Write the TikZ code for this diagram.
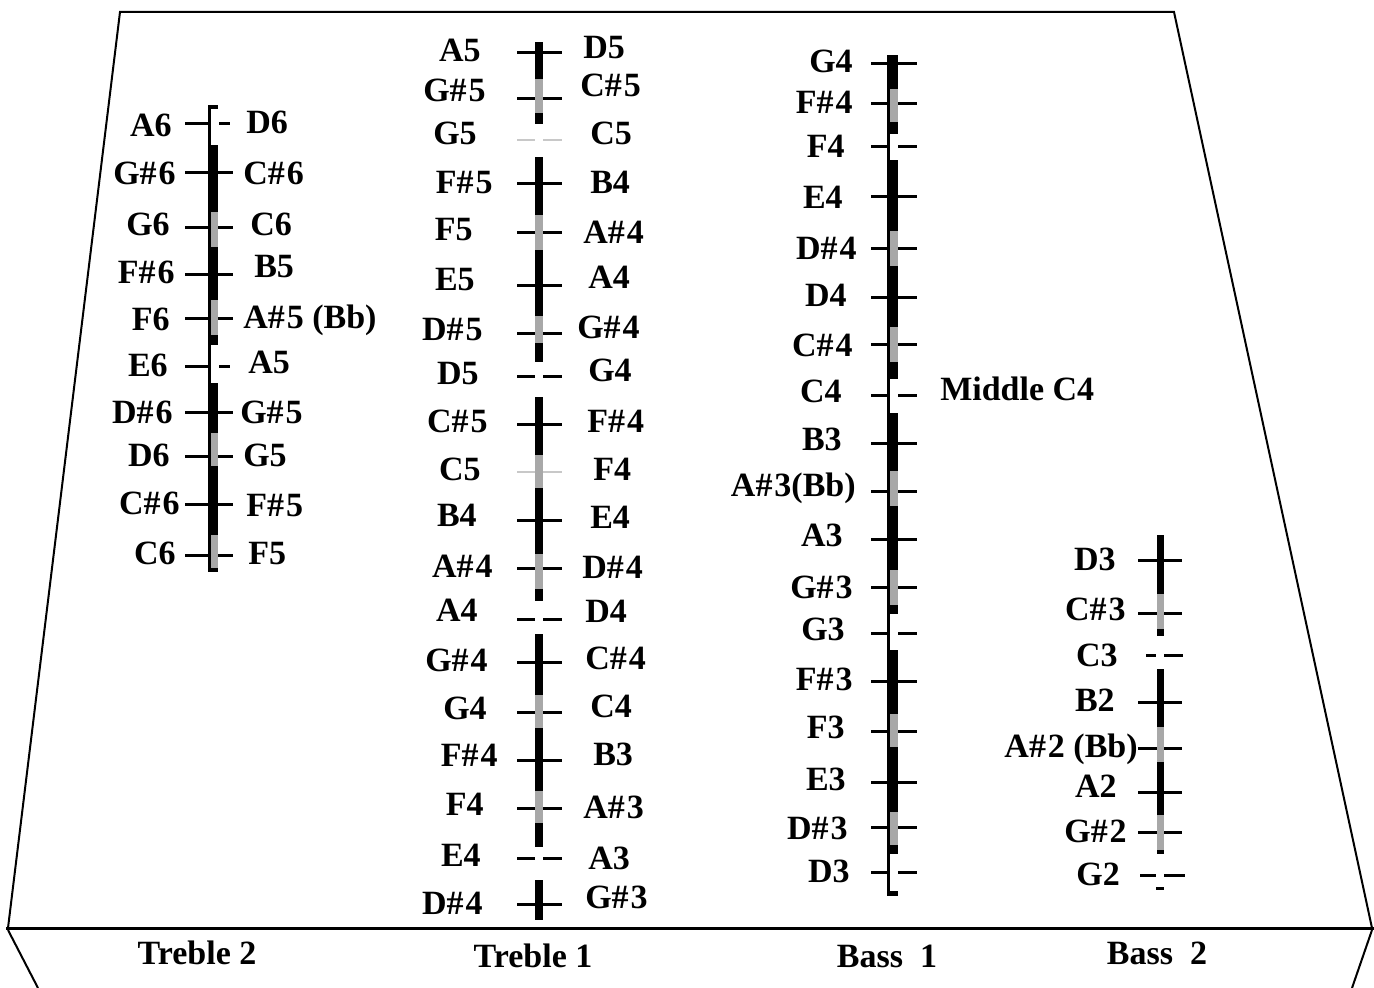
\documentclass[tikz,border=0pt]{standalone}
\usepackage{fontspec}
\setmainfont{Liberation Serif}
\definecolor{bargrey}{RGB}{168,168,168}
\definecolor{faint}{RGB}{200,200,200}
\newcommand\nl[4]{\node[lblL] (#1) at (#2,#3) {#4};}
\newcommand\nr[4]{\node[lblR] (#1) at (#2,#3) {#4};}
\newcommand\blk[4]{\fill[black] (#1,#3) rectangle (#2,#4);}
\newcommand\gry[4]{\fill[bargrey] (#1,#3) rectangle (#2,#4);}
\newcommand\sh{\#\kern1.5pt}
\begin{document}
\begin{tikzpicture}[x=0.75pt,y=-0.75pt,
  lbl/.style={font=\fontsize{25.5}{30}\selectfont\bfseries, inner sep=0pt, yshift=-8.45pt},
  lblL/.style={lbl, anchor=base east},
  lblR/.style={lbl, anchor=base west},
  lblC/.style={lbl, anchor=base},
  frame/.style={line width=1.5pt, line join=miter},
  tick/.style={line width=2.25pt},
  fainttick/.style={line width=0.8pt, draw=faint}]
\useasboundingbox (0,0) rectangle (1374,988);
% frame
\draw[frame] (8,928) -- (120,12) -- (1174,12) -- (1372,928);
\draw[line width=2.25pt] (6,928) -- (1374,928);
\draw[frame] (8,930) -- (38,988);
\draw[frame] (1372,930) -- (1352,988);
% bottom labels
\node[lblC] (lt2) at (197,953) {Treble 2};
\node[lblC] (lt1) at (533,956) {Treble 1};
\node[lblC] (lb1) at (887,956) {Bass\ \ 1};
\node[lblC] (lb2) at (1157,953) {Bass\ \ 2};

% ===== Treble 2 =====
\foreach \y in {173,227,274,318,412,456,504,555}{
  \draw[tick] (185,\y) -- (208,\y); \draw[tick] (218,\y) -- (233,\y);}
\foreach \y in {124,366}{
  \draw[tick] (185,\y) -- (208,\y); \draw[tick] (219,\y) -- (230,\y);}
\blk{208}{211}{107}{572}
\blk{208}{218}{105}{109}
\blk{208}{218}{145}{212}
\blk{208}{218}{247}{300}
\blk{208}{218}{335}{345}
\blk{208}{218}{383}{433}
\blk{208}{218}{466}{535}
\blk{208}{218}{568}{572}
\gry{211}{218}{212}{247}
\gry{211}{218}{300}{335}
\gry{211}{218}{433}{466}
\gry{211}{218}{535}{568}
\nl{t2a}{172}{125}{A6}
\nl{t2b}{176}{173}{G\sh6}
\nl{t2c}{170}{224}{G6}
\nl{t2d}{175}{272}{F\sh6}
\nl{t2e}{170}{319}{F6}
\nl{t2f}{168}{365}{E6}
\nl{t2g}{173}{412}{D\sh6}
\nl{t2h}{170}{455}{D6}
\nl{t2i}{180}{503}{C\sh6}
\nl{t2j}{176}{553}{C6}
\nr{t2A}{246}{122}{D6}
\nr{t2B}{243}{173}{C\sh6}
\nr{t2C}{250}{224}{C6}
\nr{t2D}{254}{266}{B5}
\nr{t2E}{243}{317}{A\sh5 (Bb)}
\nr{t2F}{248}{362}{A5}
\nr{t2G}{240}{412}{G\sh5}
\nr{t2H}{243}{455}{G5}
\nr{t2I}{246}{505}{F\sh5}
\nr{t2J}{248}{553}{F5}

% ===== Treble 1 =====
\foreach \y in {53,99,184,232,285,333,424,520,568,662,712,760,808,904}{
  \draw[tick] (517,\y) -- (562,\y);}
\foreach \y in {376,619,858}{
  \draw[tick] (517,\y) -- (535,\y); \draw[tick] (543,\y) -- (562,\y);}
\draw[fainttick] (517,140) -- (535,140);
\draw[fainttick] (543,140) -- (562,140);
\draw[fainttick] (517,472) -- (562,472);
\foreach \a/\b in {42/79,113/124,157/215,250/316,343/362,397/455,488/554,589/601,634/695,728/791,823/847,880/920}{
  \blk{535}{543}{\a}{\b}}
\foreach \a/\b in {79/113,215/250,316/343,455/488,554/589,695/728,791/823}{
  \gry{535}{543}{\a}{\b}}
\nl{t1a}{481}{50}{A5}
\nl{t1b}{486}{90}{G\sh5}
\nl{t1c}{477}{133}{G5}
\nl{t1d}{493}{182}{F\sh5}
\nl{t1e}{473}{229}{F5}
\nl{t1f}{475}{279}{E5}
\nl{t1g}{483}{329}{D\sh5}
\nl{t1h}{479}{373}{D5}
\nl{t1i}{488}{421}{C\sh5}
\nl{t1j}{481}{469}{C5}
\nl{t1k}{477}{515}{B4}
\nl{t1l}{493}{566}{A\sh4}
\nl{t1m}{478}{610}{A4}
\nl{t1n}{488}{660}{G\sh4}
\nl{t1o}{487}{708}{G4}
\nl{t1p}{498}{755}{F\sh4}
\nl{t1q}{484}{804}{F4}
\nl{t1r}{481}{855}{E4}
\nl{t1s}{483}{903}{D\sh4}
\nr{t1A}{583}{47}{D5}
\nr{t1B}{580}{85}{C\sh5}
\nr{t1C}{590}{133}{C5}
\nr{t1D}{590}{182}{B4}
\nr{t1E}{583}{232}{A\sh4}
\nr{t1F}{588}{277}{A4}
\nr{t1G}{577}{327}{G\sh4}
\nr{t1H}{588}{370}{G4}
\nr{t1I}{587}{421}{F\sh4}
\nr{t1J}{593}{469}{F4}
\nr{t1K}{590}{517}{E4}
\nr{t1L}{582}{567}{D\sh4}
\nr{t1M}{585}{611}{D4}
\nr{t1N}{585}{658}{C\sh4}
\nr{t1O}{590}{706}{C4}
\nr{t1P}{593}{754}{B3}
\nr{t1Q}{583}{807}{A\sh3}
\nr{t1R}{588}{858}{A3}
\nr{t1S}{585}{897}{G\sh3}

% ===== Bass 1 =====
\foreach \y in {64,104,147,197,248,297,344,395,443,491,539,587,633,681,731,782,827,872}{
  \draw[tick] (871,\y) -- (887,\y); \draw[tick] (898,\y) -- (917,\y);}
\blk{887}{890}{55}{896}
\blk{887}{898}{891}{896}
\foreach \a/\b in {55/89,122/134,160/231,266/327,362/379,413/471,506/570,605/614,650/714,747/812,845/854}{
  \blk{887}{898}{\a}{\b}}
\foreach \a/\b in {89/122,231/266,327/362,471/506,570/605,714/747,812/845}{
  \gry{890}{898}{\a}{\b}}
\nl{b1a}{853}{61}{G4}
\nl{b1b}{853}{102}{F\sh4}
\nl{b1c}{845}{146}{F4}
\nl{b1d}{843}{197}{E4}
\nl{b1e}{857}{248}{D\sh4}
\nl{b1f}{847}{295}{D4}
\nl{b1g}{853}{345}{C\sh4}
\nl{b1h}{842}{391}{C4}
\nl{b1i}{842}{439}{B3}
\nl{b1j}{856}{485}{A\sh3(Bb)}
\nl{b1k}{843}{535}{A3}
\nl{b1l}{853}{587}{G\sh3}
\nl{b1m}{845}{629}{G3}
\nl{b1n}{853}{679}{F\sh3}
\nl{b1o}{845}{727}{F3}
\nl{b1p}{846}{779}{E3}
\nl{b1q}{848}{828}{D\sh3}
\nl{b1r}{850}{871}{D3}
\nr{midc}{940}{389}{Middle C4}

% ===== Bass 2 =====
\foreach \y in {560,613,702,748,792,832}{
  \draw[tick] (1138,\y) -- (1157,\y); \draw[tick] (1164,\y) -- (1182,\y);}
\draw[tick] (1146,655) -- (1156,655); \draw[tick] (1164,655) -- (1183,655);
\draw[tick] (1140,875) -- (1156,875); \draw[tick] (1164,875) -- (1185,875);
\draw[tick] (1156,888) -- (1164,888);
\foreach \a/\b in {535/594,629/636,669/727,762/815,850/854}{
  \blk{1157}{1164}{\a}{\b}}
\foreach \a/\b in {594/629,727/762,815/850}{
  \gry{1157}{1164}{\a}{\b}}
\nl{b2a}{1116}{559}{D3}
\nl{b2b}{1126}{609}{C\sh3}
\nl{b2c}{1118}{655}{C3}
\nl{b2d}{1115}{700}{B2}
\nl{b2e}{1138}{746}{A\sh2 (Bb)}
\nl{b2f}{1117}{786}{A2}
\nl{b2g}{1127}{831}{G\sh2}
\nl{b2h}{1120}{874}{G2}
\end{tikzpicture}
\end{document}
